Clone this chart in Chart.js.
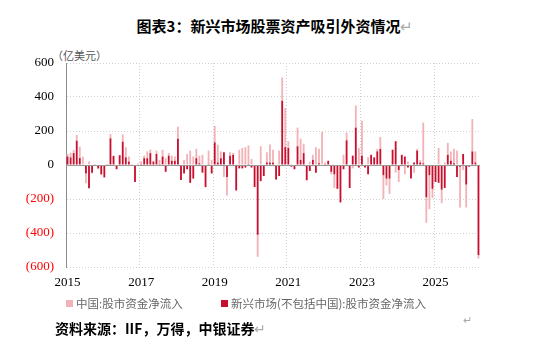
<!DOCTYPE html>
<html>
<head>
<meta charset="utf-8">
<script src="https://cdn.jsdelivr.net/npm/chart.js@4"></script>
<style>
  body { margin: 0; width: 550px; height: 358px; background: #fff; position: relative; overflow: hidden;
         font-family: "Noto Sans CJK SC", sans-serif; }
  #title { position: absolute; left: 0; width: 550px; top: 15px; text-align: center; font-size: 15px; font-weight: bold; color: #000; }
  .ret { color: #aaa; font-weight: normal; }
  #unit { position: absolute; left: 52px; top: 47px; font-size: 11px; color: #555; }
  #chartBox { position: absolute; left: 0; top: 40px; width: 550px; height: 260px; }
  .leg { position: absolute; top: 296px; font-size: 11.5px; color: #666; line-height: 14px; }
  .leg i { display: inline-block; width: 7px; height: 7px; margin-right: 3px; vertical-align: 1px; }
  #source { position: absolute; left: 55px; top: 318px; font-size: 14px; font-weight: bold; color: #000; }
  #ret2 { position: absolute; left: 463px; top: 311px; font-size: 11px; color: #aaa; }
</style>
</head>
<body>
<div id="title">图表3：新兴市场股票资产吸引外资情况<span class="ret">↵</span></div>
<div id="unit">（亿美元）</div>
<div id="chartBox"><canvas id="flowChart" width="550" height="260"></canvas></div>
<div class="leg" style="left:66px"><i style="background:#f2b3b8"></i>中国:股市资金净流入</div>
<div class="leg" style="left:221px"><i style="background:#c8102e"></i>新兴市场(不包括中国):股市资金净流入</div>
<div id="ret2">↵</div>
<div id="source">资料来源：IIF，万得，中银证券<span class="ret">↵</span></div>
<script>
// 月度数据: 2015-01 ~ 2026-03, 单位 亿美元
const startYear = 2015;
const monthCount = 135;
const months = [];
for (let i = 0; i < monthCount; i++) {
    const y = startYear + Math.floor(i / 12);
    const m = (i % 12) + 1;
    months.push(y + "-" + (m < 10 ? "0" + m : m));
}
const yearTicks = ["2015", "2017", "2019", "2021", "2023", "2025"];
const yTicks = [-600, -400, -200, 0, 200, 400, 600];

// 新兴市场(不包括中国)
const emExChina = [
    50, 45, 70, 143, 41, 3, -50, -137, -45, 3, -20, -55,
    -73, 2, 157, 53, -25, 57, 137, 45, 20, 3, -100, -3,
    5, 40, 40, 70, 20, 65, 5, 50, -40, 55, 25, 25,
    155, -88, -50, -25, -105, -80, 40, 10, -45, -130, 5, -50,
    133, 15, 40, 75, -70, 55, 60, -150, -20, -20, -15, 5,
    -15, -130, -410, -95, -65, 15, 15, 15, -85, -65, 378, 105,
    100, -10, -25, 110, 30, 70, -90, -35, 30, -45, 10, -5,
    5, 25, -40, -55, -140, -220, -25, 145, -135, 55, 220, -15,
    55, -15, -55, 60, 45, 80, 95, -60, -80, -80, 90, 140,
    -30, 60, 50, -15, -80, 15, 85, 15, 10, -190, -60, -140,
    -100, -105, -145, -135, 60, 25, 10, -70, -10, 65, -115, -10,
    80, 15, -530
];
// 中国
const china = [
    15, 27, 18, 33, 67, 46, -58, 20, -5, 3, -5, -5,
    0, 3, 25, 3, 0, 3, 43, 60, 30, 5, 0, 10,
    17, 15, 40, 20, 5, 20, 25, 40, 40, 15, 30, 25,
    70, 0, 30, 65, 85, 50, 55, 45, 60, 0, 80, 30,
    97, 105, 40, -70, -110, 20, 12, 5, 90, 100, 105, 110,
    35, 0, -130, 110, 0, 60, 105, 75, 0, 85, 137, 230,
    40, 5, 0, 110, 125, 55, 0, 20, 30, 105, 85, 195,
    10, 0, -15, -80, 0, 0, 60, 45, 0, -20, 130, 100,
    205, 5, 45, 0, 0, 15, 70, -140, -40, -90, 0, -45,
    -70, 0, -55, 20, 0, -45, 10, 15, 240, -150, -200, -55,
    0, 100, -80, 15, 70, 55, 85, 85, -240, -30, -135, 0,
    190, 65, -20
];

const colorChina = "#f2b3b8";
const colorEM = "#c8102e";

// 0 轴实线
const zeroLine = {
    id: "zeroLine",
    afterDatasetsDraw(chart) {
        const y = chart.scales.y.getPixelForValue(0);
        const a = chart.chartArea;
        const c = chart.ctx;
        c.save();
        c.strokeStyle = "#9a9a9a";
        c.lineWidth = 1;
        c.beginPath();
        c.moveTo(a.left, Math.round(y) + 0.5);
        c.lineTo(a.right, Math.round(y) + 0.5);
        c.stroke();
        c.restore();
    }
};

const ctx = document.getElementById("flowChart").getContext("2d");
const flowChart = new Chart(ctx, {
    type: "bar",
    data: {
        labels: months,
        datasets: [
            { label: "新兴市场(不包括中国):股市资金净流入", data: emExChina, backgroundColor: colorEM },
            { label: "中国:股市资金净流入", data: china, backgroundColor: colorChina }
        ]
    },
    options: {
        responsive: false,
        animation: false,
        layout: { padding: { left: 0, right: 70, top: 23, bottom: 0 } },
        plugins: { legend: { display: false }, tooltip: { enabled: false } },
        datasets: { bar: { barPercentage: 0.6, categoryPercentage: 1 } },
        scales: {
            x: {
                stacked: true,
                grid: {
                    offset: true,
                    drawTicks: false,
                    color: c => (c.index > 0 && c.index % 24 === 0) ? "#cfcfcf" : "rgba(0,0,0,0)"
                },
                border: { display: false, dash: [1, 2] },
                ticks: {
                    autoSkip: false,
                    maxRotation: 0,
                    padding: 8,
                    color: "#000",
                    font: { family: "Liberation Serif", size: 13 },
                    callback: function (v, i) {
                        const lab = months[i];
                        const yr = lab.slice(0, 4);
                        return (lab.slice(5) === "01" && yearTicks.includes(yr)) ? yr : "";
                    }
                },
                afterFit: s => { s.height = 33; }
            },
            y: {
                stacked: true,
                min: -600,
                max: 600,
                grid: { drawTicks: false, color: "#cfcfcf" },
                border: { display: true, color: "#8c8c8c", dash: [1, 2] },
                afterBuildTicks: s => { s.ticks = yTicks.map(v => ({ value: v })); },
                ticks: {
                    padding: 12,
                    font: { family: "Liberation Serif", size: 13 },
                    color: c => c.tick.value < 0 ? "#ff0000" : "#000",
                    callback: v => v < 0 ? "(" + Math.abs(v) + ")" : String(v)
                },
                afterFit: s => { s.width = 66; }
            }
        }
    },
    plugins: [zeroLine]
});
</script>
</body>
</html>
